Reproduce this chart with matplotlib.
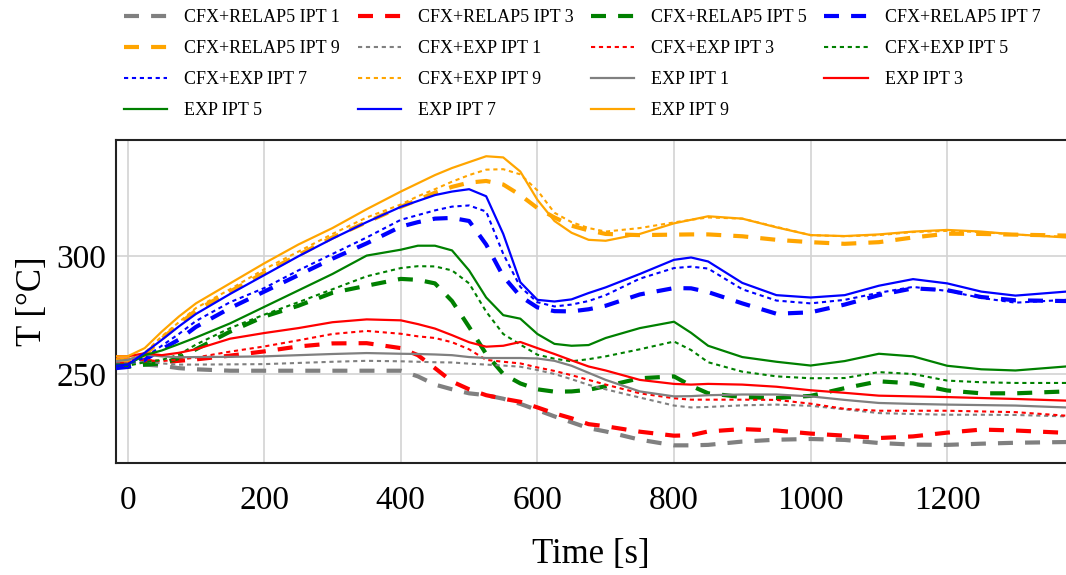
import numpy as np
import matplotlib
matplotlib.use("Agg")
import matplotlib.pyplot as plt

plt.rcParams['font.family'] = ['Liberation Serif', 'DejaVu Serif']

time_s = [-17, 0, 25, 50, 75, 100, 150, 200, 250, 300, 350, 400, 425, 450, 475, 500, 525, 550,
          575, 600, 625, 650, 675, 700, 750, 800, 825, 850, 900, 950, 1000, 1050, 1100, 1150,
          1200, 1250, 1300, 1374]

relap_ipt1 = [254, 254, 254, 253.5, 252.5, 252, 251.4, 251.4, 251.4, 251.4, 251.4, 251.4, 249, 245.5,
              243.5, 241.8, 241, 239.5, 237.3, 234.7, 232, 229.5, 227, 225.6, 222.1, 219.7, 219.7,
              219.9, 221.3, 222.1, 222.4, 222, 220.7, 220, 219.9, 220.4, 220.8, 221.1]
relap_ipt3 = [255, 255, 255.5, 255, 255.6, 256.2, 257.8, 259.6, 261.7, 263, 263.1, 261, 258, 252.5,
              246.8, 243.5, 241, 239.5, 238.2, 235.8, 233.3, 231.2, 228.7, 227.8, 225.5, 223.8, 224,
              225.6, 226.6, 226, 224.7, 223.8, 222.8, 223.5, 225.1, 226.4, 226, 225]
relap_ipt5 = [253, 253, 254, 254.5, 256.8, 260.5, 268, 274.4, 279, 284.5, 287.5, 290.4, 290, 288.5,
              281, 270, 258.5, 250, 246, 243.5, 242.5, 242.6, 243.3, 244.8, 248.2, 249, 245, 241.8,
              240.2, 239.8, 240.7, 244, 246.9, 246, 243, 241.8, 241.8, 242.6]
relap_ipt7 = [252.5, 253, 256, 260.5, 264.6, 270, 278, 285, 292, 299, 305.5, 312.6, 314.5, 316,
              316.3, 315, 305, 291.5, 283, 278.3, 276.7, 276.6, 277.5, 279, 283.8, 286.5, 286.4,
              284.8, 280, 275.6, 276.2, 279.5, 283.5, 286.4, 285.6, 282.7, 281.3, 281]
relap_ipt9 = [256, 256, 258, 265, 271, 277, 285, 293, 300.5, 308, 314.5, 321, 324, 327, 329.5,
              331.3, 332, 330.5, 326, 320.5, 316.5, 313, 311, 309.5, 309, 309.2, 309.3, 309.3,
              308.5, 307, 306, 305.3, 306, 308, 309.6, 309.5, 309.2, 308.8]

cfx_ipt1 = [254.5, 254.5, 255.4, 254.5, 254, 254, 254.1, 254.2, 254.7, 255.2, 255.6, 255.4, 255.2,
            255, 254.9, 254.4, 254, 253.6, 253.1, 251.7, 250, 247.8, 245.4, 243.5, 240, 236.6,
            235.8, 236, 236.7, 237, 236.5, 235, 233.4, 233, 232.7, 232.7, 232.6, 232]
cfx_ipt3 = [256, 256, 256, 255.5, 256.1, 257, 259.5, 261.7, 264.3, 267, 268.3, 267.1, 266, 265.3,
            263.5, 260.5, 256, 255.2, 254.5, 252.8, 251.3, 249.5, 247.5, 245.5, 241.8, 239.7,
            239.1, 239.1, 239.1, 239, 237.4, 235.2, 234.4, 234.4, 234.4, 234.1, 233.8, 232.3]
cfx_ipt5 = [253.5, 253.5, 255, 256, 258.2, 262.5, 269.5, 275.2, 280.5, 286, 291.5, 295, 295.8,
            295.7, 294, 288.5, 276.5, 267, 262.5, 258.2, 256.5, 255.4, 256.3, 257.5, 260.5, 263.8,
            260.2, 255, 251, 249, 248.2, 248.3, 250.8, 250, 247.2, 246.5, 246.2, 246.2]
cfx_ipt7 = [254, 254, 257, 262, 267, 272.5, 280.5, 286.5, 294, 301, 308, 315.5, 317.5, 319.5,
            321.1, 321.6, 319, 301, 287, 280.5, 278.7, 279.5, 281, 283.5, 290.5, 295, 295.6,
            294.8, 286, 281.2, 280, 281.5, 284.5, 287, 285.3, 282.3, 280.3, 281.5]
cfx_ipt9 = [256, 256, 259, 266, 272, 278, 286, 294.5, 302, 309.5, 316.5, 322, 325.5, 328.5, 331.7,
            334.5, 336.8, 337, 334.8, 328, 318.5, 314.5, 312, 310.5, 312, 314.4, 315.5, 316.5,
            316, 312.5, 309, 308.5, 309, 310.3, 310.8, 310.3, 309.2, 308.3]

exp_ipt1 = [255.5, 256, 258.2, 257.5, 257.1, 257.2, 257.3, 257.5, 258, 258.5, 258.9, 258.6, 258.5,
            258.3, 258, 257.2, 256.8, 256.8, 256.8, 256.6, 255.6, 253.5, 250.5, 247.5, 242.6,
            240.5, 240.6, 241, 241.3, 241.3, 240.5, 239, 237.7, 237.3, 237, 236.8, 236.6, 235.8]
exp_ipt3 = [257.5, 257.5, 258.8, 258, 259, 260.5, 265, 267.4, 269.5, 272, 273.2, 272.8, 271.2,
            269.3, 266.5, 263.5, 261.6, 262, 263.6, 261, 258.5, 255.8, 253.2, 251.5, 247.5, 245.8,
            245.5, 245.8, 245.5, 244.6, 243.1, 242, 240.8, 240.5, 240.2, 239.8, 239.4, 238.7]
exp_ipt5 = [254, 254, 258, 260, 262.7, 265.5, 271.5, 278.5, 285.5, 292.5, 300.3, 302.8, 304.5,
            304.5, 302.5, 294, 282.5, 275, 273.5, 267, 262.8, 262, 262.3, 265.3, 269.5, 272.2,
            267.5, 262, 257.2, 255.2, 253.6, 255.5, 258.6, 257.5, 253.5, 252, 251.5, 253.2]
exp_ipt7 = [253.5, 254, 259, 264.5, 270.2, 275.5, 284, 292, 300, 307.5, 314.5, 321, 323.5, 326,
            327.5, 328.5, 325.5, 309.5, 289, 281.5, 280.8, 281.7, 284.4, 286.8, 292.5, 298.5,
            299.5, 297.8, 288.7, 283.5, 282.5, 283.5, 287.5, 290.3, 288.5, 285, 283.3, 285]
exp_ipt9 = [257.5, 257.5, 261, 268, 274.4, 280, 288.5, 297, 305, 312, 320, 327.5, 331, 334.5,
            337.5, 340, 342.5, 342, 336, 324, 315, 310, 307, 306.6, 309.5, 314, 315.5, 317, 316,
            312.3, 309, 308.6, 309.3, 310.5, 311.2, 310.5, 309.3, 308]

x_ticks = [0, 200, 400, 600, 800, 1000, 1200]
y_ticks = [250, 300]

colors = {1: '#808080', 3: '#ff0000', 5: '#008000', 7: '#0000ff', 9: '#ffa500'}

fig = plt.figure(figsize=(10.66, 5.75), dpi=100)
ax = fig.add_axes([116 / 1066, 1 - 463 / 575, 1 - 116 / 1066, (463 - 140) / 575])

relap = {1: relap_ipt1, 3: relap_ipt3, 5: relap_ipt5, 7: relap_ipt7, 9: relap_ipt9}
cfx = {1: cfx_ipt1, 3: cfx_ipt3, 5: cfx_ipt5, 7: cfx_ipt7, 9: cfx_ipt9}
exp = {1: exp_ipt1, 3: exp_ipt3, 5: exp_ipt5, 7: exp_ipt7, 9: exp_ipt9}

handles = {}
for k, v in relap.items():
    h, = ax.plot(time_s, v, color=colors[k], lw=3.0, dashes=(3.6, 2.9),
                 label=f'CFX+RELAP5 IPT {k}', zorder=3)
    handles[('R', k)] = h
for k, v in cfx.items():
    h, = ax.plot(time_s, v, color=colors[k], lw=1.5, dashes=(2.0, 1.8),
                 label=f'CFX+EXP IPT {k}', zorder=3)
    handles[('C', k)] = h
for k, v in exp.items():
    h, = ax.plot(time_s, v, color=colors[k], lw=1.6,
                 label=f'EXP IPT {k}', zorder=3)
    handles[('E', k)] = h

ax.set_xlim(-17, 1374)
ax.set_ylim(212.2, 349.4)
ax.set_xticks(x_ticks)
ax.set_yticks(y_ticks)
ax.grid(True, color='#d3d3d3', lw=1.2, zorder=0)
ax.tick_params(axis='both', length=0, labelsize=24)
ax.tick_params(axis='x', pad=16)
ax.tick_params(axis='y', pad=7)
for s in ['left', 'bottom', 'top']:
    ax.spines[s].set_linewidth(1.5)
    ax.spines[s].set_color('#222222')
ax.spines['right'].set_visible(False)

ax.set_xlabel('Time [s]', fontsize=25, labelpad=16)
ax.set_ylabel('T [°C]', fontsize=25, labelpad=5)

order = [('R', 1), ('R', 9), ('C', 7), ('E', 5),
         ('R', 3), ('C', 1), ('C', 9), ('E', 7),
         ('R', 5), ('C', 3), ('E', 1), ('E', 9),
         ('R', 7), ('C', 5), ('E', 3)]
hs = [handles[o] for o in order]
fig.legend(hs, [h.get_label() for h in hs], loc='upper left',
           bbox_to_anchor=(124 / 1066, 1 - 9 / 575), ncol=4, frameon=False,
           fontsize=13, handlelength=2.4, handletextpad=0.95, columnspacing=0.95,
           labelspacing=0.78, borderpad=0, borderaxespad=0)

fig.savefig('out.png', dpi=100)
